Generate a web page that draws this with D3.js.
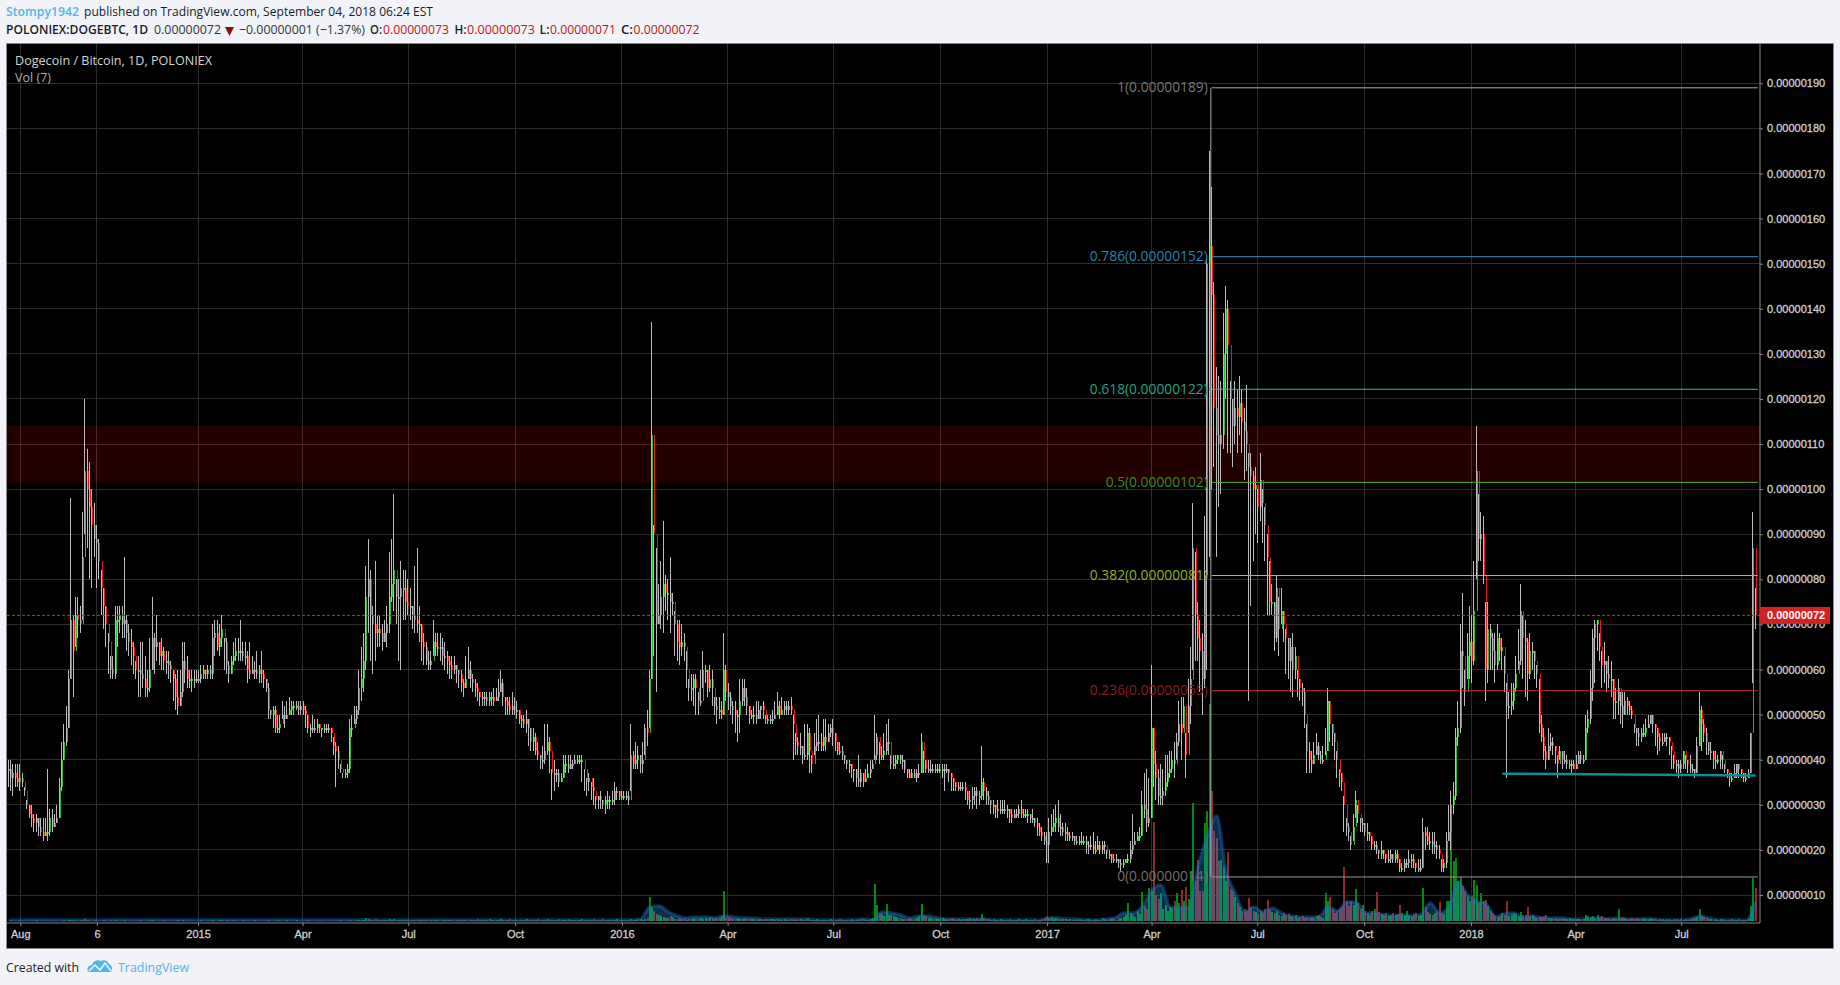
<!DOCTYPE html>
<html>
<head>
<meta charset="utf-8">
<script src="https://cdnjs.cloudflare.com/ajax/libs/d3/7.8.5/d3.min.js"></script>
<style>
html, body { margin: 0; padding: 0; background: #f1f3f8; overflow: hidden; }
</style>
</head>
<body>
<svg id="chart" width="1840" height="985"></svg>
<script>
// prices are in satoshi (1 = 0.00000001). one bar every 2 days, 20 bars per row, starting 2014-07-22
var closes = [
38,36,37,36,35,36,35,33,30,28,27,26,27,25,24,23,24,24,27,25,
26,27,34,40,44,47,58,71,64,72,71,70,85,104,100,96,92,89,88,84,
78,74,70,66,60,59,71,71,72,70,71,68,66,65,63,60,60,59,58,56,
56,60,67,65,66,63,64,62,62,61,60,58,54,52,55,62,60,58,58,58,
58,58,58,59,60,59,60,59,67,68,65,67,69,66,61,59,62,63,64,64,
64,63,63,60,59,60,60,59,60,59,58,56,51,50,51,47,47,48,50,49,
50,51,52,52,52,51,52,51,50,47,47,47,47,48,47,47,47,47,47,46,
43,42,40,38,37,37,38,47,47,49,51,56,58,62,76,80,72,70,68,69,
68,66,68,70,76,79,82,76,76,78,78,75,74,74,72,71,70,70,66,65,
62,61,62,66,65,65,65,63,63,62,61,60,61,60,59,57,56,58,60,58,
57,56,55,54,54,54,53,54,54,53,54,55,57,54,53,52,51,52,51,51,
49,49,48,49,47,44,45,42,41,40,40,42,44,42,37,37,37,35,36,39,
39,38,39,39,40,40,40,40,38,35,36,34,33,31,32,31,30,31,31,31,
31,33,33,32,32,32,32,31,41,39,40,41,39,40,47,46,58,112,90,70,
72,76,79,77,77,75,75,70,66,65,66,65,60,56,56,58,56,53,53,60,
60,56,58,56,52,51,51,50,60,55,54,52,51,50,50,53,56,54,52,50,
50,50,49,51,52,51,49,49,49,49,50,52,50,51,52,51,52,51,48,44,
43,43,41,41,46,42,39,43,44,44,43,45,44,46,47,46,44,42,42,41,
40,39,39,38,38,36,35,37,35,36,37,38,39,41,45,41,41,42,44,44,
39,39,40,41,40,40,38,37,36,37,36,37,37,44,40,38,38,38,38,38,
38,38,38,38,38,37,36,35,34,34,34,34,33,31,31,32,33,32,32,35,
33,32,31,30,30,29,29,29,29,29,29,28,27,28,28,29,28,28,28,28,
27,27,26,25,24,23,22,21,24,25,26,27,25,25,24,24,23,23,23,22,
22,22,22,22,21,21,21,20,20,21,20,21,21,19,19,18,18,18,17,17,
17,18,18,20,21,22,23,23,30,29,26,27,47,39,36,32,32,33,35,37,
38,40,39,44,48,46,52,41,52,58,87,72,67,64,58,81,150,154,143,118,
112,110,112,130,140,132,120,114,118,116,119,115,113,110,105,103,100,101,96,102,
97,92,85,75,75,67,78,69,73,70,67,62,65,60,63,58,56,55,50,42,
40,39,41,43,41,40,40,42,53,48,46,44,40,37,35,30,25,24,21,25,
31,28,26,26,24,24,23,21,21,20,19,20,19,18,18,19,18,19,18,16,
16,17,17,18,18,17,16,16,16,24,23,22,22,21,21,20,19,16,17,22,
24,30,32,45,47,64,63,55,63,66,62,73,104,89,90,81,60,69,67,64,
61,67,64,65,59,52,52,53,56,59,62,73,67,66,59,64,64,62,59,48,
45,42,40,43,44,43,42,39,42,40,40,39,39,39,38,39,41,40,40,47,
49,56,67,70,71,65,61,62,59,58,58,53,53,56,52,50,53,52,51,50,
47,46,45,46,46,47,48,50,48,47,45,44,44,45,45,44,42,39,39,38,
39,42,40,39,38,38,37,43,51,48,46,44,42,42,40,40,40,42,40,38,
37,36,36,37,39,38,37,36,36,37,46,87,72
];
var highs = [
40,40,39,39,39,39,37,34,31,30,30,28,28,27,27,27,27,38,29,29,
28,30,36,44,48,52,60,98,72,76,76,74,95,120,109,106,100,97,92,89,
82,78,74,68,63,63,74,74,74,74,85,72,70,69,66,62,63,66,66,63,
60,67,76,68,72,66,67,65,64,64,62,60,59,60,60,66,66,63,60,60,
60,60,60,61,61,60,61,61,70,71,71,70,72,67,67,62,63,66,67,67,
71,66,66,64,66,63,62,64,61,64,60,58,57,51,52,52,50,50,53,52,
53,54,53,53,53,53,53,53,52,50,48,50,49,49,48,47,48,48,48,47,
45,44,43,39,37,38,39,49,50,52,52,60,65,68,83,89,82,74,84,72,
72,70,71,74,86,89,99,80,80,84,82,82,80,78,74,83,87,74,70,68,
66,64,64,71,68,68,68,67,66,64,63,63,63,61,60,60,58,63,65,62,
59,58,57,55,55,55,55,55,55,56,56,58,60,58,54,54,54,55,54,53,
51,50,50,51,49,47,47,46,44,41,43,48,48,45,38,40,38,38,37,41,
41,41,41,40,41,41,41,41,38,36,37,35,36,32,32,33,31,32,33,32,
33,35,34,33,33,33,33,33,48,42,44,43,41,44,48,51,60,137,92,87,
79,84,93,81,80,85,77,73,71,71,70,68,64,58,59,59,59,55,60,64,
61,60,61,60,54,54,54,53,68,61,57,55,53,53,51,58,58,58,56,52,
51,52,53,53,52,53,50,50,50,51,53,55,53,54,53,53,53,54,50,46,
45,46,43,48,48,47,41,46,49,50,46,49,49,48,48,49,46,44,44,43,
41,40,40,39,38,38,41,38,37,38,39,40,40,50,46,44,43,46,48,49,
41,41,41,41,41,41,40,38,38,38,38,38,39,46,42,40,40,40,39,39,
39,39,39,39,39,38,37,36,35,35,35,35,35,33,33,34,34,34,33,43,
36,34,33,31,31,30,31,31,31,31,30,29,29,29,29,30,31,29,29,29,
28,29,27,27,26,25,24,24,27,28,29,30,31,28,26,26,25,24,24,23,
23,23,24,23,23,22,23,24,22,23,22,22,22,20,20,19,19,19,18,18,
18,18,19,22,28,24,24,25,33,37,38,36,61,47,42,38,39,38,41,41,
42,42,44,46,53,54,54,46,58,65,97,86,75,71,68,94,151,175,167,146,
127,125,124,139,145,142,124,120,124,122,125,122,118,123,108,108,104,105,100,108,
100,96,90,84,79,75,81,76,78,73,69,67,67,68,65,60,58,57,56,48,
44,42,44,46,44,42,43,47,56,53,48,46,42,38,37,32,27,26,23,28,
33,30,27,27,26,26,24,23,22,22,20,22,20,19,20,20,19,20,20,18,
17,18,18,20,19,19,17,18,18,27,25,25,24,24,24,22,21,18,18,24,
30,33,35,47,53,70,77,60,68,74,72,84,114,99,95,94,75,75,70,68,
68,70,68,67,63,57,55,57,57,63,69,79,72,71,67,68,66,64,61,58,
50,47,43,47,46,45,43,41,43,42,42,41,40,40,40,41,42,42,41,50,
51,60,69,71,71,68,64,66,62,63,62,58,56,58,55,55,55,54,53,52,
48,47,47,47,48,49,50,50,50,48,47,46,46,46,46,45,43,41,40,40,
40,42,41,40,41,39,38,45,55,52,49,47,44,44,42,42,41,42,41,39,
38,37,37,39,39,39,38,37,37,38,46,95,78
];
var lows = [
34,33,32,34,34,33,34,32,29,27,25,24,24,23,23,22,23,22,23,24,
25,26,27,33,40,43,47,58,54,65,67,68,71,90,87,80,78,85,78,80,
72,69,65,59,58,58,58,65,68,67,67,64,63,61,59,58,54,54,56,54,
54,55,60,59,62,61,60,60,59,58,57,53,51,50,52,54,57,56,56,55,
56,57,57,57,58,58,58,58,58,63,64,63,65,60,59,57,59,61,62,62,
62,62,61,57,58,59,58,58,57,57,56,55,49,49,47,46,46,46,49,47,
49,50,50,50,51,50,50,50,47,46,45,46,46,46,46,45,46,46,46,44,
41,34,38,37,36,36,36,37,45,48,48,50,53,55,60,68,62,59,62,65,
65,64,66,65,68,75,73,70,62,60,71,71,72,71,69,68,68,66,62,61,
61,60,60,63,63,63,62,61,60,59,58,58,59,57,56,55,54,56,58,56,
55,54,53,52,52,52,52,52,52,52,53,53,55,52,50,50,50,50,50,49,
48,47,47,46,43,42,42,41,40,38,38,39,41,37,31,33,35,34,35,36,
37,37,38,38,39,39,39,35,33,32,33,31,30,29,29,29,29,28,29,29,
30,30,31,31,31,31,31,30,33,38,38,38,37,37,41,43,47,58,63,55,
70,69,68,73,71,68,72,63,62,61,63,62,56,53,53,52,50,50,52,56,
57,54,55,52,50,48,49,49,50,53,51,50,48,46,44,46,52,52,50,48,
49,48,48,49,49,49,48,48,48,48,49,50,49,50,50,50,50,50,40,41,
41,41,39,40,40,37,37,41,42,42,42,42,42,44,45,43,42,41,41,40,
39,38,37,36,35,34,34,34,34,35,36,36,38,40,40,39,40,40,41,41,
38,38,38,39,39,38,37,36,36,36,36,35,36,37,37,37,37,37,37,37,
37,37,36,33,37,35,33,33,33,33,33,33,31,30,29,29,30,29,30,31,
31,30,30,28,28,27,27,28,28,28,27,26,26,27,27,27,27,27,27,26,
26,26,25,23,23,22,21,17,17,23,24,24,24,23,23,22,22,22,22,21,
21,21,21,21,19,19,20,19,19,20,19,19,19,18,18,17,17,17,16,15,
16,17,17,17,19,21,22,22,23,27,24,25,27,34,31,30,30,30,32,34,
36,37,36,40,43,40,47,36,46,48,60,62,62,55,50,56,60,85,100,105,
85,96,99,109,120,108,108,105,110,108,112,108,102,104,53,74,84,90,88,93,
88,84,72,72,72,64,66,63,70,66,59,58,55,54,58,54,53,52,47,37,
37,37,39,41,40,39,39,41,42,44,43,40,36,34,33,24,23,22,20,22,
27,26,24,24,23,22,22,20,20,19,18,18,18,17,17,17,17,17,17,15,
15,15,16,16,16,16,15,15,15,16,20,21,20,19,19,18,18,15,15,16,
22,20,28,31,43,46,56,52,58,58,57,61,80,84,84,79,53,57,60,60,
57,60,62,60,55,36,49,50,51,55,60,61,58,54,53,58,60,58,56,46,
44,40,38,40,42,41,39,36,40,38,39,38,38,37,38,38,39,39,39,40,
46,48,53,57,64,62,56,57,55,56,54,49,49,50,48,47,50,50,50,49,
46,43,43,44,45,45,47,48,46,43,41,42,43,44,43,41,38,38,37,36,
37,38,38,37,37,37,36,37,43,42,44,41,41,40,38,38,39,38,38,37,
36,34,35,36,36,36,36,35,35,36,37,57,69
];
var volumes = [
0,1,0,0,0,1,0,0,0,0,0,0,1,0,0,0,0,0,0,0,
0,0,0,0,1,0,1,1,1,0,0,1,1,2,1,0,0,1,0,0,
0,1,0,0,1,0,1,0,0,0,1,0,0,0,0,0,0,1,0,0,
0,1,1,0,0,0,0,1,0,0,0,0,0,1,0,1,0,0,0,0,
0,0,0,1,0,0,0,0,1,0,0,1,1,0,1,0,0,1,0,0,
0,1,0,0,0,0,1,0,0,0,0,0,1,0,0,0,1,0,0,0,
1,0,0,0,1,0,0,0,0,1,0,0,0,0,1,0,0,0,0,0,
0,0,0,1,0,0,0,1,0,0,1,1,1,1,3,2,1,1,2,1,
1,1,1,1,2,1,2,1,1,1,1,1,1,1,1,1,1,1,1,1,
1,0,1,1,1,1,0,1,1,1,1,1,0,1,1,1,1,1,0,1,
1,1,2,1,1,1,1,2,1,1,1,1,2,1,1,1,2,1,1,1,
1,1,1,2,1,1,1,1,2,1,1,1,2,1,1,1,1,2,1,1,
1,2,1,1,1,1,1,2,1,1,1,1,2,1,1,1,2,1,1,1,
1,1,2,1,1,1,1,1,2,1,1,2,2,1,2,3,24,14,10,7,
6,5,4,3,3,5,4,2,2,3,2,3,1,2,2,3,2,2,3,2,
3,2,4,3,2,3,3,5,30,3,4,3,2,2,3,2,2,3,2,2,
2,2,1,2,2,1,2,1,2,2,1,2,1,1,2,1,1,2,1,1,
1,2,1,1,3,1,1,1,2,1,1,1,1,1,2,1,1,1,2,1,
1,1,1,2,1,1,1,2,2,1,1,2,3,37,16,8,7,5,17,6,
6,5,4,3,3,2,2,2,3,2,2,3,5,17,6,5,3,3,2,3,
2,2,3,2,1,2,3,2,1,2,1,2,2,2,3,2,2,3,2,7,
3,2,2,1,2,1,1,2,1,1,1,2,1,1,1,2,1,1,2,1,
1,1,2,1,1,2,3,5,3,4,2,3,2,1,2,2,1,2,1,1,
1,2,1,1,2,2,1,1,2,1,1,3,2,1,2,3,2,1,3,3,
4,6,18,8,6,4,10,7,29,15,12,33,30,99,26,22,28,12,16,10,
14,13,20,28,18,31,20,34,22,50,118,40,61,30,30,98,110,217,130,90,
83,60,61,54,40,69,32,30,24,18,14,10,12,10,23,14,10,9,7,10,
8,12,21,12,9,8,10,6,5,8,6,7,5,4,6,3,4,5,3,4,
3,4,3,5,6,4,3,28,20,24,12,8,10,12,14,54,20,15,20,16,
32,18,12,16,10,8,6,10,12,29,9,7,6,8,5,6,8,6,7,16,
8,6,10,6,5,7,8,5,6,33,14,9,7,6,8,10,19,8,7,20,
20,114,60,63,40,44,35,30,25,20,25,41,36,18,28,20,21,15,10,8,
6,4,5,8,6,20,5,6,8,7,5,9,6,6,14,5,6,4,3,5,
4,5,6,3,3,2,3,2,2,3,2,2,3,2,2,2,2,1,2,6,
5,4,5,3,6,4,5,3,3,3,2,3,2,12,3,4,3,2,2,3,
2,3,2,2,3,2,2,3,2,2,1,2,2,1,2,2,1,2,2,1,
2,1,2,1,2,2,3,4,12,5,4,3,2,2,1,2,1,2,2,1,
1,1,2,1,1,2,1,1,1,2,15,43,33
];
// Vol (7) average, one point every 8 days, same units
var volAverage = [
1,1,1,1,1, 1,1,1,1,1, 1,1,1,1,1, 1,1,1,1,1, 1,1,1,1,1,
1,1,1,1,1, 1,1,1,1,1, 1,1,1,1,1, 1,1,1,1,1, 1,1,1,1,1,
1,1,1,1,1, 1,1,1,1,1, 1,1,1,1,1, 1,1,1,2,14, 15,9,5,3,4,
4,3,5,4,3, 3,2,2,2,2, 2,2,1,1,1, 1,1,2,1,9, 8,6,3,5,5,
3,2,2,2,2, 2,1,1,1,1, 1,1,3,3,2, 2,1,1,2,3, 8,8,14,30,36,
14,13,14,55,85, 105,50,28,9,14, 9,13,8,5,4, 4,4,14,10,19, 19,8,8,6,5,
6,5,7,18,8, 14,39,26,20,17, 4,7,8,3,5, 3,3,3,2,2, 2,3,2,3,2,
2,2,2,1,1, 1,2,5,3,1, 1,1,1,19
];

var xTickDates = ["2014-08-01", "2014-10-06", "2015-01-01", "2015-04-01", "2015-07-01", "2015-10-01", "2016-01-01", "2016-04-01", "2016-07-01", "2016-10-01", "2017-01-01", "2017-04-01", "2017-07-01", "2017-10-01", "2018-01-01", "2018-04-01", "2018-07-01"];
var xTickLabels = ["Aug", "6", "2015", "Apr", "Jul", "Oct", "2016", "Apr", "Jul", "Oct", "2017", "Apr", "Jul", "Oct", "2018", "Apr", "Jul"];
var yTicks = [10, 20, 30, 40, 50, 60, 70, 80, 90, 100, 110, 120, 130, 140, 150, 160, 170, 180, 190];

var fibLevels = ["1", "0.786", "0.618", "0.5", "0.382", "0.236", "0"];
var fibPrices = [189, 151.55, 122.15, 101.5, 80.85, 55.3, 14];
var fibLineColors = ["#a8a8a8", "#3a94c4", "#3cc09a", "#4caf2e", "#9ccc1e", "#c83030", "#989898"];
var fibTextColors = ["#777777", "#2b83ad", "#1fa585", "#3a8a1c", "#8fb31c", "#8e1c1c", "#707070"];
var fibDates = ["2017-05-22", "2018-09-05"];
var redZone = [114.1, 101.4];
var trendDates = ["2018-01-28", "2018-09-03"];
var trendPrices = [36.9, 36.5];
var lastPrice = 72;

var panel = { left: 7, right: 1833, top: 44, bottom: 948, axisX: 1760, axisY: 923, volBase: 921 };
var parseDay = d3.timeParse("%Y-%m-%d");
var firstBar = parseDay("2014-07-22");

function barDate(i) { return d3.timeDay.offset(firstBar, i * 2); }

var x = d3.scaleTime()
    .domain([parseDay("2014-08-01"), parseDay("2018-01-01")])
    .range([20.3, 1471]);
var y = d3.scaleLinear().domain([10, 190]).range([895, 83.3]);
var yVol = d3.scaleLinear().domain([0, 217]).range([panel.volBase, 704]);

function fmtPrice(p) { return (p * 1e-8).toFixed(8); }

var svg = d3.select("#chart");
var sans = "'Open Sans', sans-serif";
var axisFont = "'Liberation Sans', Arial, sans-serif";

// black chart panel
svg.append("rect")
    .attr("x", panel.left - 0.5).attr("y", panel.top - 0.5)
    .attr("width", panel.right - panel.left + 1).attr("height", panel.bottom - panel.top + 1)
    .attr("fill", "#000").attr("stroke", "#8a8a8a");

// grid
var grid = svg.append("g").attr("stroke", "#2d2d2d").attr("shape-rendering", "crispEdges");
grid.selectAll(".hg").data(yTicks).enter().append("line")
    .attr("x1", panel.left).attr("x2", panel.axisX)
    .attr("y1", function (d) { return y(d); }).attr("y2", function (d) { return y(d); });
grid.selectAll(".vg").data(xTickDates).enter().append("line")
    .attr("y1", panel.top).attr("y2", panel.axisY)
    .attr("x1", function (d) { return x(parseDay(d)); }).attr("x2", function (d) { return x(parseDay(d)); });

// resistance zone
svg.append("rect")
    .attr("x", panel.left).attr("width", panel.axisX - panel.left)
    .attr("y", y(redZone[0])).attr("height", y(redZone[1]) - y(redZone[0]))
    .attr("fill", "#ff0000").attr("opacity", 0.135);

var bars = closes.map(function (c, i) {
    return { date: barDate(i), o: i ? closes[i - 1] : c, c: c, h: highs[i], l: lows[i], v: volumes[i] };
});

// volume pane
var volG = svg.append("g");
volG.selectAll("rect").data(bars).enter().append("rect")
    .attr("x", function (d) { return x(d.date) - 1; })
    .attr("width", 2)
    .attr("y", function (d) { return yVol(d.v); })
    .attr("height", function (d) { return panel.volBase - yVol(d.v); })
    .attr("shape-rendering", "crispEdges")
    .attr("fill", function (d) { return d.c >= d.o ? "#008a12" : "#8f2a2a"; });

var avgDate = function (i) { return d3.timeDay.offset(firstBar, i * 8); };
volG.append("path").datum(volAverage)
    .attr("fill", "#2196f3").attr("opacity", 0.3)
    .attr("d", d3.area().curve(d3.curveMonotoneX)
        .x(function (d, i) { return x(avgDate(i)); })
        .y0(panel.volBase)
        .y1(function (d) { return yVol(d); }));
volG.append("path").datum(volAverage)
    .attr("fill", "none").attr("stroke", "#1e6ebe").attr("stroke-opacity", 0.42).attr("stroke-width", 3.5)
    .attr("d", d3.line().curve(d3.curveMonotoneX)
        .x(function (d, i) { return x(avgDate(i)); })
        .y(function (d) { return yVol(d); }));

// fib anchor line goes under the candles
var fibX = x(parseDay(fibDates[0]));
svg.append("line")
    .attr("x1", fibX).attr("x2", fibX)
    .attr("y1", y(fibPrices[0])).attr("y2", y(fibPrices[6]))
    .attr("stroke", "#a8a8a8");

// candles: grey wick column with the thin coloured body right next to it
var candles = svg.append("g").attr("shape-rendering", "crispEdges");
candles.selectAll(".wick").data(bars).enter().append("rect")
    .attr("x", function (d) { return x(d.date) - 1; })
    .attr("width", 1)
    .attr("y", function (d) { return y(d.h); })
    .attr("height", function (d) { return y(d.l) - y(d.h); })
    .attr("fill", "#bcbcbc");
candles.selectAll(".body").data(bars).enter().append("rect")
    .attr("x", function (d) { return x(d.date); })
    .attr("width", 1)
    .attr("y", function (d) { return y(Math.max(d.o, d.c)); })
    .attr("height", function (d) { return Math.max(2, Math.abs(y(d.o) - y(d.c))); })
    .attr("fill", function (d) { return d.c >= d.o ? "#2fb82f" : "#e81818"; });

// fib retracement lines + labels
fibLevels.forEach(function (lvl, i) {
    svg.append("line")
        .attr("x1", fibX + 1).attr("x2", x(parseDay(fibDates[1])))
        .attr("y1", y(fibPrices[i])).attr("y2", y(fibPrices[i]))
        .attr("stroke", fibLineColors[i]).attr("stroke-width", 1);
    svg.append("text")
        .attr("x", fibX - 3).attr("y", y(fibPrices[i]) + 4.5)
        .attr("text-anchor", "end")
        .style("font", "13.8px " + sans)
        .attr("fill", fibTextColors[i])
        .text(lvl + "(" + fmtPrice(Math.round(fibPrices[i])) + ")");
});

// support trend line
svg.append("line")
    .attr("x1", x(parseDay(trendDates[0]))).attr("x2", x(parseDay(trendDates[1])))
    .attr("y1", y(trendPrices[0])).attr("y2", y(trendPrices[1]))
    .attr("stroke", "#0b8f8f").attr("stroke-width", 2.5);

// last price line
svg.append("line")
    .attr("x1", panel.left).attr("x2", panel.axisX)
    .attr("y1", y(lastPrice)).attr("y2", y(lastPrice))
    .attr("stroke", "#f01c1c").attr("stroke-dasharray", "3,2");

// axes
var yAxis = svg.append("g")
    .attr("transform", "translate(" + panel.axisX + ",0)")
    .call(d3.axisRight(y).tickValues(yTicks).tickSize(3).tickPadding(4).tickFormat(fmtPrice));
var xAxis = svg.append("g")
    .attr("transform", "translate(0," + panel.axisY + ")")
    .call(d3.axisBottom(x).tickValues(xTickDates.map(parseDay)).tickSize(3).tickPadding(4)
        .tickFormat(function (d, i) { return xTickLabels[i]; }));
[yAxis, xAxis].forEach(function (a) {
    a.select(".domain").remove();
    a.selectAll("line").attr("stroke", "#8a8a8a");
    a.selectAll("text").attr("fill", "#cfcfcf").attr("stroke", "#cfcfcf").attr("stroke-width", 0.3)
        .style("font", "11px " + axisFont);
});
svg.append("line").attr("x1", panel.axisX).attr("x2", panel.axisX).attr("y1", panel.top).attr("y2", panel.axisY).attr("stroke", "#8a8a8a");
svg.append("line").attr("x1", panel.left).attr("x2", panel.axisX).attr("y1", panel.axisY).attr("y2", panel.axisY).attr("stroke", "#8a8a8a");

// last price tag
svg.append("rect")
    .attr("x", panel.axisX).attr("y", y(lastPrice) - 8.5).attr("width", 70).attr("height", 17)
    .attr("fill", "#d32222");
svg.append("text")
    .attr("x", panel.axisX + 7).attr("y", y(lastPrice) + 4)
    .style("font", "bold 11px " + axisFont)
    .attr("fill", "#fff")
    .text(fmtPrice(lastPrice));

// header and footer texts, widths are forced to the measured ones
function label(txt, xPos, yPos, width, color, weight, size) {
    var t = svg.append("text")
        .attr("x", xPos).attr("y", yPos)
        .style("font", (weight || "normal") + " " + (size || 13) + "px " + sans)
        .attr("fill", color)
        .text(txt);
    if (width) t.attr("textLength", width).attr("lengthAdjust", "spacingAndGlyphs");
    return t;
}
var dark = "#1a1d26", red = "#c21414", blue = "#4fb6e6";
label("Stompy1942", 6, 16, 73, blue, "600");
label("published on TradingView.com, September 04, 2018 06:24 EST", 84, 16, 349, dark);
label("POLONIEX:DOGEBTC, 1D", 6, 34, 142, dark, "600");
label("0.00000072", 154, 34, 67, "#333");
svg.append("path").attr("d", "M225,27 L234,27 L229.5,36 Z").attr("fill", "#8c0f0f");
label("\u22120.00000001 (\u22121.37%)", 239, 34, 126, "#333");
label("O:", 370, 34, 12, dark, "600");
label("0.00000073", 383, 34, 66, red);
label("H:", 454.5, 34, 12, dark, "600");
label("0.00000073", 467, 34, 68, red);
label("L:", 539.5, 34, 10, dark, "600");
label("0.00000071", 550, 34, 66, red);
label("C:", 621, 34, 12, dark, "600");
label("0.00000072", 633.5, 34, 66, red);

label("Dogecoin / Bitcoin, 1D, POLONIEX", 15, 65, 197, "#d4d4d4");
label("Vol (7)", 15, 82, 36, "#aaaaaa");

label("Created with", 6, 972, 73, "#222");
svg.append("path")
    .attr("d", "M88,972 C86,968 89,965 92,965 C93,961 98,959 101,961 C104,959 108,961 109,964 C112,965 113,969 111,972 Z")
    .attr("fill", blue);
svg.append("path")
    .attr("d", "M89,971 L95,965 L100,970 L105,963 L111,971")
    .attr("fill", "none").attr("stroke", "#f1f3f8").attr("stroke-width", 1.5);
label("TradingView", 118, 972, 71, blue);
</script>
</body>
</html>
